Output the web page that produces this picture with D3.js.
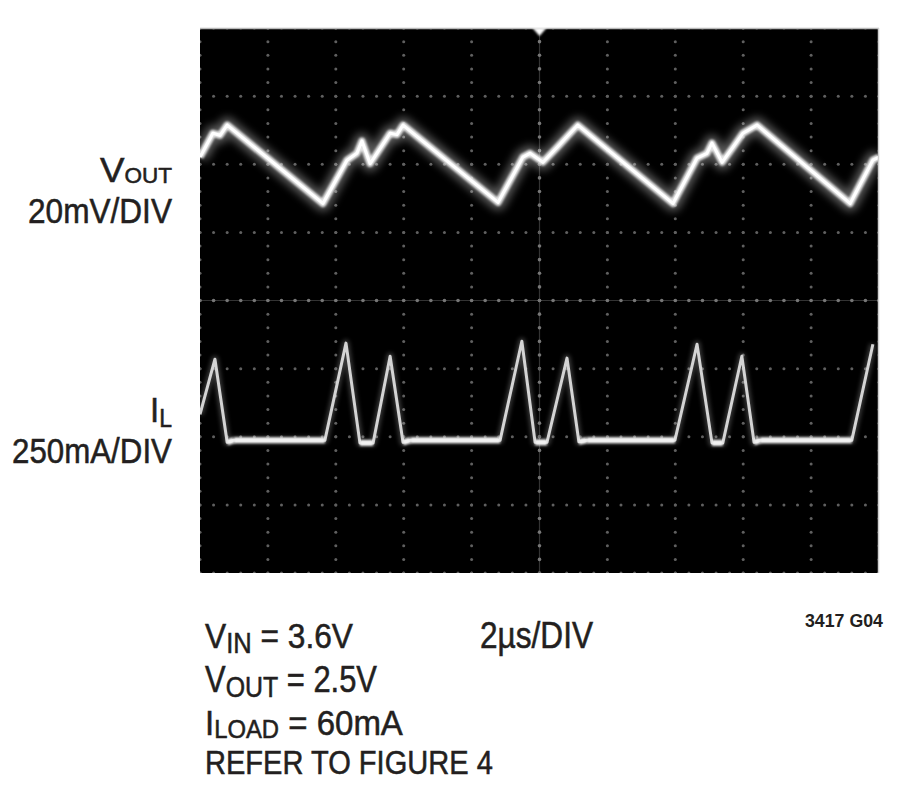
<!DOCTYPE html>
<html><head><meta charset="utf-8">
<script src="https://cdn.jsdelivr.net/npm/d3@7"></script>
<style>body{margin:0;background:#fff} svg{display:block}</style>
</head><body>
<svg id="c" width="900" height="790"></svg>
<script>
// ---- data ----
const timePerDivUs = 2;          // 2µs/DIV
const voutMvPerDiv = 20;         // 20mV/DIV
const ilMaPerDiv = 250;          // 250mA/DIV
const hDivs = 10, vDivs = 8;
const voutOffsetDiv = 2.0;       // channel positions on screen (divisions from centre)
const ilOffsetDiv = -2.05;

const voutTimeUs = [0, 0.38, 0.59, 0.80, 3.62, 4.33, 4.62, 4.77, 5.01, 5.21, 5.60, 5.80, 5.98,
  8.78, 9.51, 9.72, 10.10, 10.52, 10.90, 11.13, 13.93, 14.64, 14.93, 15.08, 15.38, 15.70, 15.99,
  16.41, 19.15, 19.82, 20.0];
const voutRippleMv = [2.1, 9.1, 8.5, 11.5, -11.5, 1.2, 3.2, 6.8, 0.2, 3.2, 9.1, 8.7, 11.5,
  -11.2, 2.1, 3.2, 0.6, 5.0, 9.1, 11.5, -11.5, 1.8, 3.2, 6.2, 0.6, 5.0, 9.1,
  11.5, -11.5, 1.2, 2.1];

const ilTimeUs = [0, 0.44, 0.80, 1.0, 3.68, 4.30, 4.71, 5.10, 5.60, 5.98, 6.2, 8.84, 9.48, 9.87,
  10.22, 10.81, 11.16, 11.4, 13.99, 14.64, 15.08, 15.40, 15.96, 16.32, 16.5, 19.20, 19.82];
const ilCurrentMa = [95, 297, -8, 0, 0, 356, -10, -10, 308, -8, 0, 0, 363, -8,
  -8, 301, -6, 0, 0, 352, -10, -10, 308, -8, 0, 0, 352];

const sideLabels = [
  {main: "V", sub: "OUT", line2: "20mV/DIV"},
  {main: "I", sub: "L", line2: "250mA/DIV"}
];
const noteLines = [
  {main: "V", sub: "IN", rest: " = 3.6V"},
  {main: "V", sub: "OUT", rest: " = 2.5V"},
  {main: "I", sub: "LOAD", rest: " = 60mA"},
  {main: "REFER TO FIGURE 4", sub: "", rest: ""}
];
const timebaseLabel = "2µs/DIV";
const figureId = "3417 G04";

// ---- drawing ----
const svg = d3.select("#c");
const FONT = "'Liberation Sans Narrow','Liberation Sans',Arial,sans-serif";
const L = 200, R = 879, T = 28, B = 573;

const x = d3.scaleLinear().domain([0, hDivs * timePerDivUs]).range([L, R]);
const yDiv = d3.scaleLinear().domain([-vDivs / 2, vDivs / 2]).range([B, T]);

const defs = svg.append("defs");
function blur(id, sd) {
  defs.append("filter").attr("id", id).attr("filterUnits", "userSpaceOnUse")
    .attr("x", 0).attr("y", 0).attr("width", 900).attr("height", 790)
    .append("feGaussianBlur").attr("stdDeviation", sd);
}
blur("b4", 4); blur("b2", 2); blur("b1", 1); blur("b06", 0.6);
defs.append("clipPath").attr("id", "clip").append("rect")
  .attr("x", L).attr("y", T).attr("width", R - L).attr("height", B - T);

svg.append("rect").attr("x", L).attr("y", T).attr("width", R - L).attr("height", B - T).attr("fill", "#000");

const plot = svg.append("g").attr("clip-path", "url(#clip)");

// graticule
const grid = plot.append("g");
const vLines = d3.range(0, hDivs + 1).map(i => i * timePerDivUs);
const hLines = d3.range(-vDivs / 2, vDivs / 2 + 1);
const vSub = d3.range(0, vDivs * 5 + 1).map(k => -vDivs / 2 + k / 5);
const hSub = d3.range(0, hDivs * 5 + 1).map(k => k * timePerDivUs / 5);
grid.append("line").attr("x1", x(hDivs * timePerDivUs / 2)).attr("x2", x(hDivs * timePerDivUs / 2))
  .attr("y1", T).attr("y2", B).attr("stroke", "#333").attr("stroke-width", 1.2);
grid.append("line").attr("x1", L).attr("x2", R).attr("y1", yDiv(0)).attr("y2", yDiv(0))
  .attr("stroke", "#333").attr("stroke-width", 1.2);
const dots = [];
vLines.forEach(t => vSub.forEach(d => dots.push([x(t), yDiv(d), t === hDivs * timePerDivUs / 2])));
hLines.forEach(d => hSub.forEach(t => dots.push([x(t), yDiv(d), d === 0])));
grid.append("g").attr("filter", "url(#b06)").selectAll("circle").data(dots).join("circle")
  .attr("cx", d => d[0]).attr("cy", d => d[1]).attr("r", d => d[2] ? 1.8 : 1.5)
  .attr("fill", d => d[2] ? "#777" : "#606060");

// border highlights
svg.append("line").attr("x1", L).attr("x2", R).attr("y1", T + 0.5).attr("y2", T + 0.5)
  .attr("stroke", "#b8b8b8").attr("stroke-width", 1.5);
svg.append("line").attr("x1", R - 0.5).attr("x2", R - 0.5).attr("y1", T).attr("y2", B)
  .attr("stroke", "#cfcfcf").attr("stroke-width", 1.5);

// Vout trace
const voutData = voutTimeUs.map((t, i) => [t, voutOffsetDiv + voutRippleMv[i] / voutMvPerDiv]);
const line = d3.line().x(d => x(d[0])).y(d => yDiv(d[1]));
const vg = plot.append("g");
vg.append("path").attr("d", line(voutData)).attr("fill", "none").attr("stroke", "#fff")
  .attr("stroke-width", 16).attr("opacity", 0.35).attr("filter", "url(#b4)").attr("stroke-linejoin", "round");
vg.append("path").attr("d", line(voutData)).attr("fill", "none").attr("stroke", "#e6e6e6")
  .attr("stroke-width", 7).attr("filter", "url(#b1)").attr("stroke-linejoin", "round");
vg.append("path").attr("d", line(voutData)).attr("fill", "none").attr("stroke", "#fff")
  .attr("stroke-width", 3).attr("stroke-linejoin", "round");

// IL trace
const ilData = ilTimeUs.map((t, i) => [t, ilOffsetDiv + ilCurrentMa[i] / ilMaPerDiv]);
const ig = plot.append("g");
ig.append("path").attr("d", line(ilData)).attr("fill", "none").attr("stroke", "#fff")
  .attr("stroke-width", 7).attr("opacity", 0.22).attr("filter", "url(#b2)").attr("stroke-linejoin", "round");
ig.append("path").attr("d", line(ilData)).attr("fill", "none").attr("stroke", "#d4d4d4")
  .attr("stroke-width", 3).attr("filter", "url(#b06)").attr("stroke-linejoin", "round");
const flats = [];
for (let i = 0; i + 1 < ilData.length; i++) {
  if (Math.abs(ilCurrentMa[i]) < 20 && Math.abs(ilCurrentMa[i + 1]) < 20) flats.push([ilData[i], ilData[i + 1]]);
}
ig.selectAll("path.flat").data(flats).join("path").attr("class", "flat")
  .attr("d", d => line(d)).attr("fill", "none").attr("stroke", "#f2f2f2")
  .attr("stroke-width", 6).attr("filter", "url(#b1)");

// trigger marker
const tc = x(hDivs * timePerDivUs / 2);
svg.append("path").attr("d", `M${tc - 7},${T}L${tc + 7},${T}L${tc},${T + 8}Z`)
  .attr("fill", "#fff").attr("filter", "url(#b1)");

// ---- text ----
function fitText(xPos, yBase, anchor, parts, width, opts = {}) {
  const t = svg.append("text").attr("x", 0).attr("y", 0)
    .attr("font-family", FONT).attr("fill", "#231f20")
    .attr("stroke", "#231f20").attr("stroke-width", opts.bold ? 0 : 0.55)
    .attr("font-weight", opts.bold ? "bold" : "normal");
  let cur = 0;
  parts.forEach(p => {
    if (!p.s) return;
    const off = p.dy || 0;
    t.append("tspan").attr("font-size", p.size).attr("dy", off - cur).text(p.s);
    cur = off;
  });
  const w = t.node().getComputedTextLength();
  const sx = width / w;
  const left = anchor === "end" ? xPos - width : xPos;
  t.attr("transform", `translate(${left},${yBase}) scale(${sx},1)`);
  return t;
}
const MAIN = 36, SUB = 29;
// side labels
fitText(172, 182, "end", [{s: sideLabels[0].main, size: MAIN}, {s: sideLabels[0].sub, size: 22, dy: 1}], 72);
fitText(172, 223, "end", [{s: sideLabels[0].line2, size: MAIN}], 144);
fitText(172, 422, "end", [{s: sideLabels[1].main, size: MAIN}, {s: sideLabels[1].sub, size: 25, dy: 5}], 22);
fitText(172, 463, "end", [{s: sideLabels[1].line2, size: MAIN}], 160);
// notes
const noteBase = [648, 692, 735, 774];
const noteWidth = [148, 172, 198, 288];
const subSize = [SUB, SUB, 26, SUB];
const subDy = [5, 5, 3, 0];
noteLines.forEach((n, i) => {
  fitText(205, noteBase[i], "start",
    [{s: n.main, size: i === 3 ? 34 : MAIN}, {s: n.sub, size: subSize[i], dy: subDy[i]}, {s: n.rest, size: MAIN, dy: 0}], noteWidth[i]);
});
fitText(480, 648, "start", [{s: timebaseLabel, size: MAIN}], 113);
fitText(883, 627, "end", [{s: figureId, size: 18}], 78, {bold: true});
</script>
</body></html>
